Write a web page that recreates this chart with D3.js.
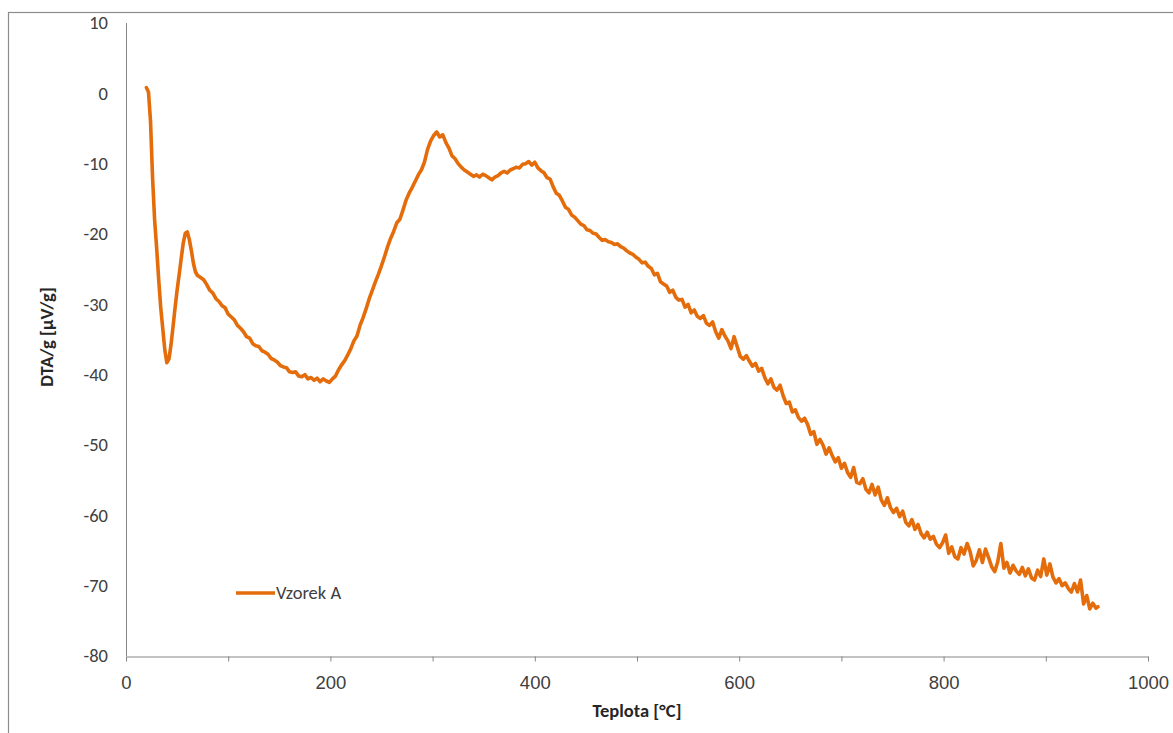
<!DOCTYPE html>
<html>
<head>
<meta charset="utf-8">
<script src="https://cdn.jsdelivr.net/npm/d3@7"></script>
<style>
  body { margin: 0; background: #fff; }
  svg { display: block; font-family: Calibri, Carlito, "Open Sans", "Liberation Sans", sans-serif; }
</style>
</head>
<body>
<svg></svg>
<script>
var width = 1173;
var height = 733;

var seriesName = 'Vzorek A';
var xTicks = [0, 200, 400, 600, 800, 1000];
var xMinorTicks = [100, 300, 500, 700, 900];
var yTicks = [10, 0, -10, -20, -30, -40, -50, -60, -70, -80];

var temps = [20, 22, 24, 26, 28, 30, 32, 34, 36, 38, 40, 42, 44, 46, 48, 50, 52, 54, 56, 58, 60, 62, 64, 66, 68, 70,
  73, 76, 79, 82, 85, 88, 91, 94, 97, 100, 103, 106, 109, 112, 115, 118, 121, 124, 127, 130, 133, 136, 139, 142, 145,
  148, 151, 154, 157, 160, 163, 166, 169, 172, 175, 178, 181, 184, 187, 190, 193, 196, 199, 202, 205, 208, 211, 214,
  217, 220, 223, 226, 229, 232, 235, 238, 241, 244, 247, 250, 253, 256, 259, 262, 265, 268, 271, 274, 277, 280, 283,
  286, 289, 292, 295, 298, 301, 304, 307, 310, 313, 316, 319, 322, 325, 328, 331, 334, 337, 340, 343, 346, 349, 352,
  355, 358, 361, 364, 367, 370, 373, 376, 379, 382, 385, 388, 391, 394, 397, 400, 403, 406, 409, 412, 415, 418, 421,
  424, 427, 430, 433, 436, 439, 442, 445, 448, 451, 454, 457, 460, 463, 466, 469, 472, 475, 478, 481, 484, 487, 490,
  493, 496, 499, 502, 505, 508, 511, 514, 517, 520, 523, 526, 529, 532, 535, 538, 541, 544, 547, 550, 553, 556, 559,
  562, 565, 568, 571, 574, 577, 580, 583, 586, 589, 592, 595, 598, 601, 604, 607, 610, 613, 616, 619, 622, 625, 628,
  631, 634, 637, 640, 643, 646, 649, 652, 655, 658, 661, 664, 667, 670, 673, 676, 679, 682, 685, 688, 691, 694, 697,
  700, 703, 706, 709, 712, 715, 718, 721, 724, 727, 730, 733, 736, 739, 742, 745, 748, 751, 754, 757, 760, 763, 766,
  769, 772, 775, 778, 781, 784, 787, 790, 793, 796, 799, 802, 805, 808, 811, 814, 817, 820, 823, 826, 829, 832, 835,
  838, 841, 844, 847, 850, 853, 856, 859, 862, 865, 868, 871, 874, 877, 880, 883, 886, 889, 892, 895, 898, 901, 904,
  907, 910, 913, 916, 919, 922, 925, 928, 931, 934, 937, 940, 943, 946, 949, 951];

var dta = [0.8, 0.2, -4, -12, -18, -22, -26.5, -30.5, -33.5, -36.5, -38.3, -37.8, -35.8, -33.2, -30.5, -28, -25.8,
  -23.5, -21.3, -19.9, -19.7, -20.8, -22.4, -24.2, -25.4, -25.9,
  -26.2, -26.5, -27.2, -28.0, -28.4, -29.2, -29.6, -30.2, -30.5, -31.4, -31.8, -32.2, -33.0, -33.4, -33.9, -34.6,
  -34.8, -35.6, -35.9, -36.0, -36.6, -36.8, -37.1, -37.7, -37.9, -38.2, -38.7, -38.9, -39.0, -39.6, -39.7, -39.6,
  -40.2, -40.3, -40.0, -40.6, -40.4, -40.8, -40.5, -41.0, -40.6, -40.9, -41.1, -40.6, -40.2, -39.3, -38.6, -38.0,
  -37.2, -36.3, -35.2, -34.5, -33.0, -31.9, -30.6, -29.2, -28.0, -26.8, -25.7, -24.5, -23.2, -21.8, -20.6, -19.6,
  -18.4, -17.9, -16.6, -15.2, -14.2, -13.4, -12.5, -11.6, -10.9, -9.8, -8.0, -6.8, -6.0, -5.5, -6.2, -5.9, -7.0,
  -7.8, -8.9, -9.3, -10.0, -10.5, -10.9, -11.2, -11.5, -11.8, -11.6, -11.9, -11.5, -11.7, -12.0, -12.3, -11.9,
  -11.7, -11.3, -11.1, -11.3, -10.9, -10.7, -10.5, -10.6, -10.1, -10.0, -9.7, -10.2, -9.8, -10.6, -11.0, -11.3,
  -12.0, -12.2, -13.3, -14.2, -14.5, -15.3, -16.2, -16.5, -17.3, -17.6, -18.1, -18.6, -18.8, -19.4, -19.5, -19.9,
  -20.0, -20.5, -20.9, -20.8, -21.1, -21.2, -21.5, -21.4, -21.8, -22.0, -22.4, -22.7, -22.9, -23.3, -23.6, -24.1,
  -24.0, -24.6, -24.9, -25.8, -25.6, -26.8, -27.1, -27.4, -28.3, -28.0, -29.0, -29.4, -29.3, -30.4, -30.0, -31.2,
  -30.8, -31.7, -32.0, -31.6, -32.7, -33.0, -32.5, -33.9, -34.8, -33.6, -34.5, -35.2, -36.3, -34.6, -36.0, -37.4,
  -37.8, -37.3, -38.1, -38.8, -38.4, -39.5, -39.1, -40.4, -41.3, -40.6, -41.8, -42.2, -41.5, -43.0, -44.1, -43.9,
  -45.3, -45.0, -46.1, -46.6, -46.2, -47.1, -48.5, -48.1, -49.9, -49.2, -50.0, -51.3, -50.4, -51.5, -52.4, -51.8,
  -53.3, -52.6, -53.9, -54.6, -53.2, -55.3, -55.5, -54.8, -56.3, -56.8, -55.6, -57.1, -56.0, -57.8, -58.6, -57.5,
  -58.9, -59.6, -59.0, -60.2, -59.4, -61.0, -61.5, -60.6, -62.0, -61.3, -62.6, -63.2, -62.4, -63.4, -63.0, -64.1,
  -64.6, -63.9, -62.8, -65.4, -64.5, -65.9, -66.2, -64.6, -65.5, -64.0, -65.2, -67.2, -66.4, -64.9, -66.7, -64.8,
  -66.0, -67.3, -68.0, -66.6, -64.0, -67.5, -66.7, -68.2, -67.1, -67.9, -68.4, -67.4, -68.6, -67.6, -68.9, -69.2,
  -67.8, -68.7, -66.2, -68.5, -66.9, -68.8, -69.6, -69.0, -70.0, -69.6, -70.4, -70.9, -69.7, -70.9, -69.2, -72.6,
  -71.4, -73.3, -72.5, -73.2, -73.0];

var data = temps.map(function(t, i) { return {t: t, v: dta[i]}; });

var svg = d3.select('svg')
  .attr('width', width)
  .attr('height', height);

// chart frame (the right and bottom edges fall outside the picture)
svg.append('rect')
  .attr('x', 8.5)
  .attr('y', 12.5)
  .attr('width', 1180)
  .attr('height', 740)
  .attr('fill', 'none')
  .attr('stroke', '#8c8c8c')
  .attr('stroke-width', 1.2);

var x = d3.scaleLinear().domain([0, 1000]).range([126, 1148]);
var y = d3.scaleLinear().domain([-80, 10]).range([656, 23]);

var axisColor = '#868686';
var textColor = '#404040';
var tickFont = 18.5;

// y axis line
svg.append('line')
  .attr('x1', 126.5).attr('x2', 126.5)
  .attr('y1', y(10)).attr('y2', y(-80))
  .attr('stroke', axisColor);

svg.append('g')
  .selectAll('text')
  .data(yTicks)
  .enter()
  .append('text')
  .attr('x', 108)
  .attr('y', function(d) { return y(d); })
  .attr('dy', '0.35em')
  .attr('text-anchor', 'end')
  .attr('font-size', tickFont)
  .attr('fill', textColor)
  .text(function(d) { return d; });

// x axis
var xAxis = svg.append('g')
  .attr('transform', 'translate(0,' + (y(-80) + 0.5) + ')')
  .call(d3.axisBottom(x).tickValues(xTicks.concat(xMinorTicks).sort(d3.ascending))
    .tickSize(5).tickSizeOuter(0)
    .tickFormat(function(d) { return xTicks.indexOf(d) >= 0 ? d : ''; }));
xAxis.select('.domain').attr('stroke', axisColor);
xAxis.selectAll('line').attr('stroke', axisColor);
xAxis.selectAll('text')
  .attr('font-size', tickFont)
  .attr('font-family', 'inherit')
  .attr('fill', textColor)
  .attr('y', 26)
  .attr('dy', '0.35em');

// axis titles
svg.append('text')
  .attr('x', 637)
  .attr('y', 717)
  .attr('text-anchor', 'middle')
  .attr('font-size', 18.5)
  .attr('font-weight', 'bold')
  .attr('fill', '#262626')
  .text('Teplota [°C]');

svg.append('text')
  .attr('transform', 'translate(47,337) rotate(-90)')
  .attr('text-anchor', 'middle')
  .attr('dy', '0.35em')
  .attr('font-size', 18.5)
  .attr('font-weight', 'bold')
  .attr('fill', '#262626')
  .text('DTA/g [µV/g]');

// the curve
var line = d3.line()
  .x(function(d) { return x(d.t); })
  .y(function(d) { return y(d.v); });

svg.append('path')
  .datum(data)
  .attr('d', line)
  .attr('fill', 'none')
  .attr('stroke', '#e46c0a')
  .attr('stroke-width', 3.6)
  .attr('stroke-linejoin', 'round')
  .attr('stroke-linecap', 'round');

// legend
svg.append('line')
  .attr('x1', 236).attr('x2', 275)
  .attr('y1', 593).attr('y2', 593)
  .attr('stroke', '#e46c0a')
  .attr('stroke-width', 3.6);

svg.append('text')
  .attr('x', 276)
  .attr('y', 593)
  .attr('dy', '0.35em')
  .attr('font-size', tickFont)
  .attr('fill', textColor)
  .text(seriesName);
</script>
</body>
</html>
